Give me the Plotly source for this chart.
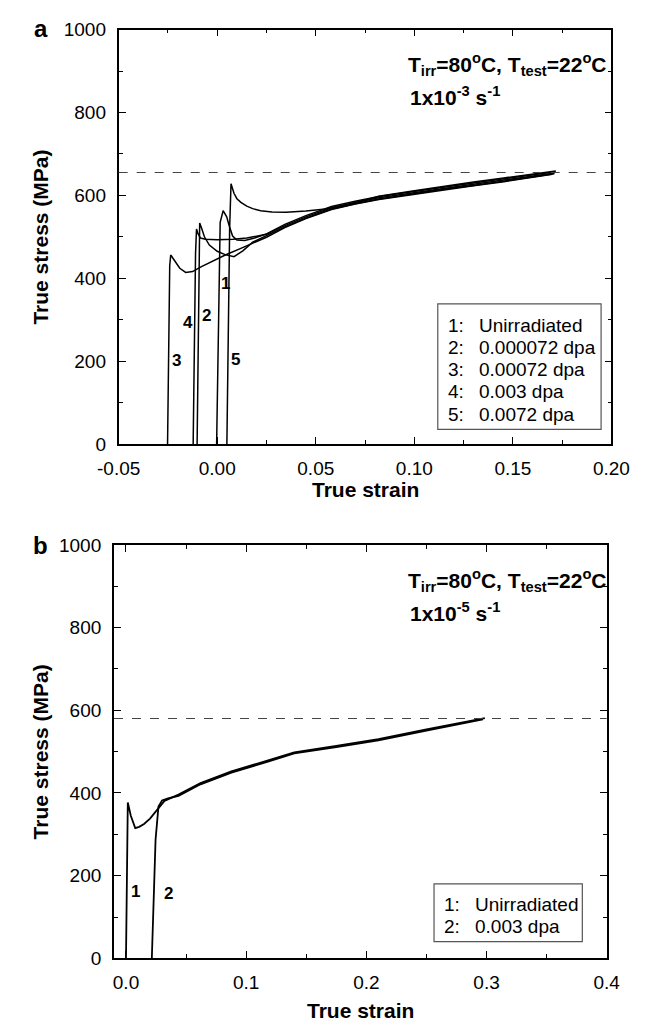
import plotly.graph_objects as go

# ---------------- Panel a data (strain rate 1e-3 /s) ----------------
a1_strain = [-0.0003, 0.0005, 0.0015, 0.0030, 0.0048, 0.0062, 0.0078, 0.0100, 0.0140, 0.0190, 0.0250, 0.0343, 0.0450, 0.0580, 0.0700, 0.0820, 0.1000, 0.1137, 0.1300, 0.1454, 0.1600, 0.1716]
a1_stress = [0, 300, 535, 563, 548, 525, 502, 492, 491, 497, 507, 530, 551, 573, 586, 597, 610, 620, 630, 640, 650, 657]

a2_strain = [-0.0102, -0.0096, -0.0092, -0.0089, -0.0080, -0.0065, -0.0040, 0.0000, 0.0040, 0.0085, 0.0130, 0.0180, 0.0250, 0.0343, 0.0450, 0.0580, 0.0700, 0.0820, 0.1000, 0.1137, 0.1300, 0.1454, 0.1600, 0.1710]
a2_stress = [0, 300, 480, 533, 522, 500, 480, 465, 457, 452, 466, 487, 503, 524, 545, 567, 580, 591, 604, 614, 624, 634, 644, 652]

a3_strain = [-0.0252, -0.0247, -0.0241, -0.0236, -0.0220, -0.0190, -0.0160, -0.0125, -0.0080, -0.0038, 0.0041, 0.0120, 0.0200, 0.0250, 0.0343, 0.0450, 0.0580, 0.0700, 0.0820, 0.1000, 0.1137, 0.1300, 0.1454, 0.1600, 0.1700]
a3_stress = [0, 250, 430, 456, 444, 424, 414, 416, 428, 438, 456, 472, 488, 499, 522, 544, 566, 579, 590, 603, 613, 623, 633, 643, 651]

a4_strain = [-0.0122, -0.0117, -0.0110, -0.0105, -0.0098, -0.0085, -0.0060, 0.0000, 0.0080, 0.0150, 0.0200, 0.0250, 0.0343, 0.0450, 0.0580, 0.0700, 0.0820, 0.1000, 0.1137, 0.1300, 0.1454, 0.1600, 0.1712]
a4_stress = [0, 250, 460, 519, 508, 497, 494, 493, 494, 497, 501, 506, 527, 548, 570, 583, 594, 607, 617, 627, 637, 647, 654]

a5_strain = [0.0049, 0.0055, 0.0063, 0.0070, 0.0085, 0.0100, 0.0120, 0.0150, 0.0180, 0.0220, 0.0278, 0.0350, 0.0450, 0.0550, 0.0650, 0.0750, 0.0820, 0.1000, 0.1137, 0.1300, 0.1454, 0.1600, 0.1718]
a5_stress = [0, 250, 520, 628, 605, 592, 583, 574, 568, 563, 560, 559, 562, 567, 576, 588, 598, 611, 621, 632, 642, 652, 659]

a_uts = 655
a_xticks = [-0.05, 0.0, 0.05, 0.10, 0.15, 0.20]
a_xtick_labels = ["-0.05", "0.00", "0.05", "0.10", "0.15", "0.20"]
a_numbers = ["1", "2", "3", "4", "5"]
a_label_strain = [0.0040, -0.0054, -0.0205, -0.0146, 0.0094]
a_label_stress = [387, 310, 201, 292, 203]
a_legend_nums = ["1:", "2:", "3:", "4:", "5:"]
a_legend_text = ["Unirradiated", "0.000072 dpa", "0.00072 dpa", "0.003 dpa", "0.0072 dpa"]

# ---------------- Panel b data (strain rate 1e-5 /s) ----------------
b1_strain = [0.0000, 0.0007, 0.0015, 0.0040, 0.0077, 0.0110, 0.0150, 0.0200, 0.0267, 0.0320, 0.0437, 0.0620, 0.0877, 0.1140, 0.1400, 0.1750, 0.2100, 0.2500, 0.2986]
b1_stress = [0, 250, 377, 345, 315, 318, 325, 338, 362, 381, 396, 424, 452, 475, 498, 514, 530, 554, 581]

b2_strain = [0.0215, 0.0229, 0.0246, 0.0270, 0.0300, 0.0350, 0.0437, 0.0620, 0.0877, 0.1140, 0.1400, 0.1750, 0.2100, 0.2500, 0.2970]
b2_stress = [0, 130, 287, 367, 382, 387, 393, 421, 449, 472, 496, 511, 527, 551, 578]

b_uts = 580
b_xticks = [0.0, 0.1, 0.2, 0.3, 0.4]
b_xtick_labels = ["0.0", "0.1", "0.2", "0.3", "0.4"]
b_numbers = ["1", "2"]
b_label_strain = [0.0077, 0.035]
b_label_stress = [162, 158]
b_legend_nums = ["1:", "2:"]
b_legend_text = ["Unirradiated", "0.003 dpa"]

# ---------------- figure ----------------
W, H = 651, 1034
def px(x):
    return x / W
def py(y):
    return 1 - y / H

FONT = "Liberation Sans, Arial, Helvetica, sans-serif"
line_style = dict(color="black", width=1.5)

fig = go.Figure()
for xs, ys in [(a1_strain, a1_stress), (a2_strain, a2_stress), (a3_strain, a3_stress),
               (a4_strain, a4_stress), (a5_strain, a5_stress)]:
    fig.add_trace(go.Scatter(x=xs, y=ys, mode="lines", line=line_style,
                             xaxis="x", yaxis="y", showlegend=False, hoverinfo="skip"))
for xs, ys in [(b1_strain, b1_stress), (b2_strain, b2_stress)]:
    fig.add_trace(go.Scatter(x=xs, y=ys, mode="lines", line=dict(color="black", width=1.8),
                             xaxis="x2", yaxis="y2", showlegend=False, hoverinfo="skip"))

axis_common = dict(showline=True, linecolor="black", linewidth=1.8, mirror="ticks",
                   ticks="inside", ticklen=7, tickwidth=1.3, tickcolor="black",
                   showgrid=False, zeroline=False,
                   tickfont=dict(family=FONT, size=19, color="black"))
minor_common = dict(ticks="inside", ticklen=4, tickwidth=1.2, tickcolor="black", showgrid=False)

fig.update_layout(
    width=W, height=H, margin=dict(l=0, r=0, t=0, b=0),
    paper_bgcolor="white", plot_bgcolor="white", showlegend=False,
    xaxis=dict(domain=[px(103), px(628)], range=[-0.05, 0.20],
               tickmode="array", tickvals=a_xticks, ticktext=a_xtick_labels,
               anchor="y", ticklabelstandoff=6,
               minor=dict(dtick=0.025, tick0=0, **minor_common), **axis_common),
    yaxis=dict(domain=[py(443), py(20)], range=[0, 1000], dtick=200, anchor="x",
               ticklabelstandoff=7,
               minor=dict(dtick=100, **minor_common), **axis_common),
    xaxis2=dict(domain=[px(98), px(623)], range=[-0.01, 0.40],
                tickmode="array", tickvals=b_xticks, ticktext=b_xtick_labels,
                anchor="y2", ticklabelstandoff=6,
                minor=dict(dtick=0.05, tick0=0, **minor_common), **axis_common),
    yaxis2=dict(domain=[py(968), py(546)], range=[0, 1000], dtick=200, anchor="x2",
                ticklabelstandoff=7,
                minor=dict(dtick=100, **minor_common), **axis_common),
)

# dashed UTS lines
fig.add_shape(type="line", xref="x domain", yref="y", x0=0, x1=1, y0=a_uts, y1=a_uts,
              line=dict(color="#444", width=1.1, dash="dash"))
fig.add_shape(type="line", xref="x2 domain", yref="y2", x0=0, x1=1, y0=b_uts, y1=b_uts,
              line=dict(color="#444", width=1.1, dash="dash"))

ann = []
bold = dict(family=FONT, color="black")

# curve labels
for t, xv, yv in zip(a_numbers, a_label_strain, a_label_stress):
    ann.append(dict(x=xv, y=yv, xref="x", yref="y", text="<b>%s</b>" % t, showarrow=False,
                    font=dict(size=17, **bold)))
for t, xv, yv in zip(b_numbers, b_label_strain, b_label_stress):
    ann.append(dict(x=xv, y=yv, xref="x2", yref="y2", text="<b>%s</b>" % t, showarrow=False,
                    font=dict(size=17, **bold)))

# condition texts
cond = "<b>T<sub>irr</sub>=80<sup>o</sup>C, T<sub>test</sub>=22<sup>o</sup>C</b>"
for top, rate, xl in [(20, "<b>1x10<sup>-3</sup> s<sup>-1</sup></b>", 409), (546, "<b>1x10<sup>-5</sup> s<sup>-1</sup></b>", 409)]:
    ann.append(dict(x=px(xl), y=py(top + 36), xref="paper", yref="paper", text=cond,
                    xanchor="left", yanchor="middle", showarrow=False, font=dict(size=21, **bold)))
    ann.append(dict(x=px(xl + 2), y=py(top + 68), xref="paper", yref="paper", text=rate,
                    xanchor="left", yanchor="middle", showarrow=False, font=dict(size=21, **bold)))

# legends
def legend(nums, texts, x_num, x_txt, y0, box):
    for i, (n, t) in enumerate(zip(nums, texts)):
        yy = y0 + i * 22.6
        ann.append(dict(x=px(x_num), y=py(yy), xref="paper", yref="paper", text=n,
                        xanchor="left", yanchor="middle", showarrow=False,
                        font=dict(family=FONT, size=19, color="black")))
        ann.append(dict(x=px(x_txt), y=py(yy), xref="paper", yref="paper", text=t,
                        xanchor="left", yanchor="middle", showarrow=False,
                        font=dict(family=FONT, size=19, color="black")))
    fig.add_shape(type="rect", xref="paper", yref="paper",
                  x0=px(box[0]), x1=px(box[1]), y0=py(box[2]), y1=py(box[3]),
                  line=dict(color="#555", width=1.2), fillcolor="rgba(0,0,0,0)")

legend(a_legend_nums, a_legend_text, 452, 485, 322, (443, 617, 300, 428))
legend(b_legend_nums, b_legend_text, 448, 481, 913, (439, 597, 892, 951))

# axis titles and panel letters
for yc, xc_title, yt in [((20 + 443) / 2, (103 + 628) / 2, 489), ((546 + 968) / 2, (98 + 623) / 2, 1021)]:
    ann.append(dict(x=px(20), y=py(yc), xref="paper", yref="paper", text="<b>True stress (MPa)</b>",
                    textangle=-90, showarrow=False, xanchor="center", yanchor="middle",
                    font=dict(size=21, **bold)))
    ann.append(dict(x=px(xc_title), y=py(yt), xref="paper", yref="paper", text="<b>True strain</b>",
                    showarrow=False, xanchor="center", yanchor="middle", font=dict(size=21, **bold)))

ann.append(dict(x=px(20), y=py(19), xref="paper", yref="paper", text="<b>a</b>", showarrow=False,
                xanchor="center", yanchor="middle", font=dict(size=24, **bold)))
ann.append(dict(x=px(20), y=py(547), xref="paper", yref="paper", text="<b>b</b>", showarrow=False,
                xanchor="center", yanchor="middle", font=dict(size=24, **bold)))

fig.update_layout(annotations=ann)
fig.write_html("out.html")
